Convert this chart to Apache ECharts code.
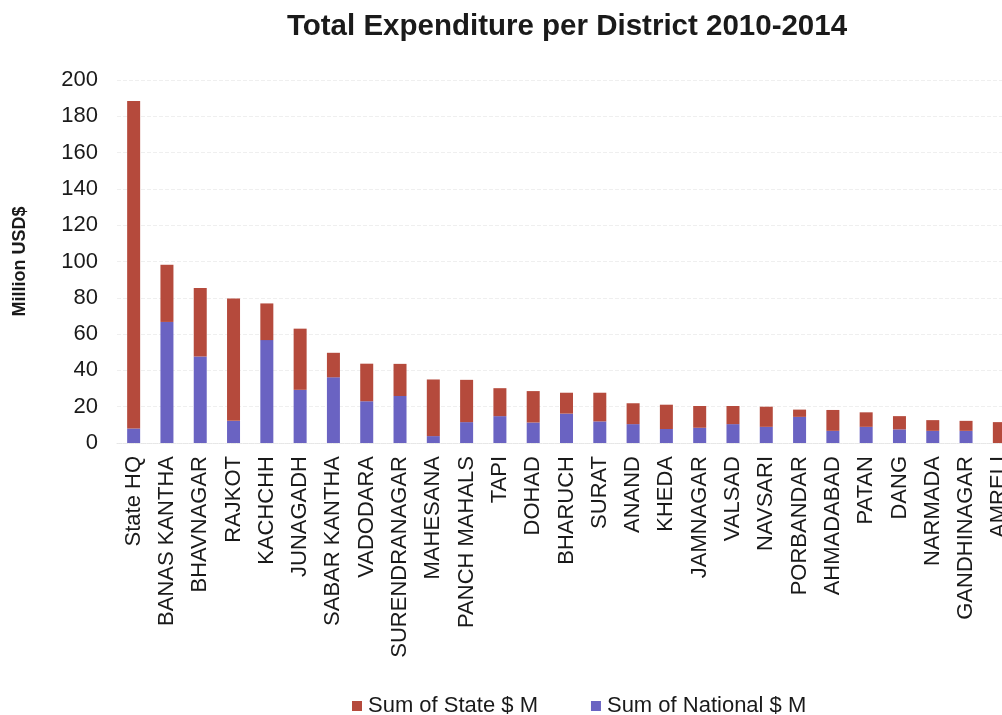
<!DOCTYPE html>
<html>
<head>
<meta charset="utf-8">
<script src="https://cdn.jsdelivr.net/npm/echarts@6/dist/echarts.min.js"></script>
<style>
  html, body { margin: 0; padding: 0; background: #fff; }
  #chart { width: 1002px; height: 715px; }
</style>
</head>
<body>
<div id="chart"></div>
<script>
// Districts, ordered by total spend
const districts = [
  'State HQ', 'BANAS KANTHA', 'BHAVNAGAR', 'RAJKOT', 'KACHCHH', 'JUNAGADH',
  'SABAR KANTHA', 'VADODARA', 'SURENDRANAGAR', 'MAHESANA', 'PANCH MAHALS',
  'TAPI', 'DOHAD', 'BHARUCH', 'SURAT', 'ANAND', 'KHEDA', 'JAMNAGAR', 'VALSAD',
  'NAVSARI', 'PORBANDAR', 'AHMADABAD', 'PATAN', 'DANG', 'NARMADA',
  'GANDHINAGAR', 'AMRELI'
];

// National share, million USD
const nationalSpend = [
  8.0, 66.7, 47.7, 12.2, 56.7, 29.3, 36.2, 23.0, 25.9, 3.8, 11.5,
  14.8, 11.3, 16.2, 11.9, 10.4, 7.7, 8.4, 10.4,
  8.9, 14.4, 6.7, 8.9, 7.5, 6.7, 6.7, 0
];

// State share, million USD
const stateSpend = [
  180.4, 31.5, 37.7, 67.4, 20.2, 33.7, 13.5, 20.7, 17.7, 31.2, 23.3,
  15.4, 17.3, 11.5, 15.8, 11.5, 13.4, 12.0, 10.0,
  11.1, 4.0, 11.5, 8.0, 7.3, 5.9, 5.5, 11.5
];

const yTicks = { min: 0, max: 200, interval: 20 };

const chart = echarts.init(document.getElementById('chart'));
const font = "'Liberation Sans', Arial, sans-serif";

chart.setOption({
  animation: false,
  backgroundColor: '#ffffff',
  title: {
    text: 'Total Expenditure per District 2010-2014',
    left: 562,
    textAlign: 'center',
    top: 7,
    textStyle: { fontFamily: font, fontSize: 29.5, fontWeight: 'bold', color: '#1a1a1a' }
  },
  legend: {
    top: 690,
    left: 347,
    itemWidth: 10,
    itemHeight: 10,
    itemGap: 53,
    icon: 'rect',
    textStyle: { fontFamily: font, fontSize: 22, color: '#1a1a1a', padding: [0, 0, 0, 1] },
    data: ['Sum of State $ M', 'Sum of National $ M']
  },
  grid: {
    left: 117,
    right: -14,
    top: 80,
    bottom: 272,
    containLabel: false,
    outerBoundsMode: 'none'
  },
  xAxis: {
    type: 'category',
    data: districts,
    axisLine: { show: true, lineStyle: { color: '#e6e6e6', type: 'dotted' } },
    axisTick: { show: false },
    axisLabel: {
      rotate: 90,
      interval: 0,
      margin: 13,
      fontFamily: font,
      fontSize: 22,
      color: '#1a1a1a'
    }
  },
  yAxis: {
    type: 'value',
    min: yTicks.min,
    max: yTicks.max,
    interval: yTicks.interval,
    name: 'Million USD$',
    nameLocation: 'middle',
    nameGap: 88,
    nameRotate: 90,
    nameTextStyle: { fontFamily: font, fontSize: 18, fontWeight: 'bold', color: '#1a1a1a' },
    axisLine: { show: false },
    axisTick: { show: false },
    axisLabel: { fontFamily: font, fontSize: 22, color: '#1a1a1a', margin: 19 },
    splitLine: { show: true, lineStyle: { color: '#efefef', type: 'dashed', width: 1 } }
  },
  series: [
    {
      name: 'Sum of National $ M',
      type: 'bar',
      stack: 'total',
      barWidth: 13,
      data: nationalSpend,
      itemStyle: { color: '#6a63c2' }
    },
    {
      name: 'Sum of State $ M',
      type: 'bar',
      stack: 'total',
      barWidth: 13,
      data: stateSpend,
      itemStyle: { color: '#b54a3c' }
    }
  ]
});
</script>
</body>
</html>
